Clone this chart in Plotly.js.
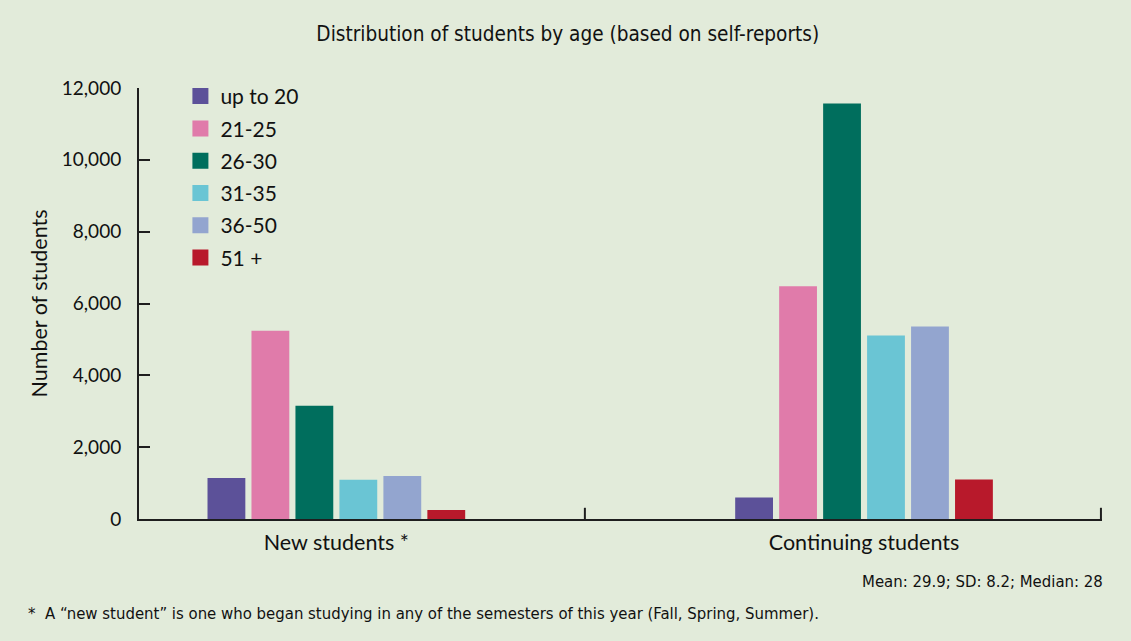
<!DOCTYPE html>
<html>
<head>
<meta charset="utf-8">
<script src="https://cdn.plot.ly/plotly-3.0.1.min.js"></script>
<style>html,body{margin:0;padding:0;background:#E2EBDA;}#chart{width:1131px;height:641px;}</style>
</head>
<body>
<div id="chart"></div>
<script>
// Data
const groups = ["New students *", "Continuing students"];
const ageBands = ["up to 20", "21-25", "26-30", "31-35", "36-50", "51 +"];
const newStudents = [1140, 5240, 3150, 1090, 1200, 250];
const continuingStudents = [600, 6480, 11570, 5110, 5360, 1100];
const bandColors = ["#5C5199", "#E07BAA", "#006E5D", "#6AC5D4", "#93A5CF", "#B8192B"];

const traces = [];
ageBands.forEach((band, i) => {
  traces.push({
    type: "bar",
    x: groups,
    y: [newStudents[i], continuingStudents[i]],
    name: band,
    marker: {color: bandColors[i]},
    showlegend: false,
    hoverinfo: "y+name"
  });
});
// legend proxies (larger square keys)
ageBands.forEach((band, i) => {
  traces.push({
    type: "scatter",
    mode: "markers",
    x: [null], y: [null],
    name: band,
    legendgroup: "g" + i,
    marker: {symbol: "square", size: 17, color: bandColors[i]},
    hoverinfo: "skip"
  });
});

const sans = "Lato, 'Open Sans', sans-serif";
const narrow = "'Liberation Sans Narrow', 'DejaVu Sans Condensed', sans-serif";
const axisColor = "#1e1e1e";

const layout = {
  width: 1131, height: 641,
  paper_bgcolor: "#E2EBDA",
  plot_bgcolor: "#E2EBDA",
  margin: {l: 139, r: 29, t: 88, b: 122},
  title: {text: "Distribution of students by age (based on self-reports)",
          font: {family: narrow, size: 20.6, color: "#111"},
          x: 0.502, xanchor: "center", y: 0.948, yanchor: "middle"},
  barmode: "group",
  bargap: 0.5,
  bargroupgap: 0.14,
  xaxis: {
    type: "category",
    range: [-0.374, 1.451],
    showline: true, linecolor: axisColor, linewidth: 2,
    ticks: "", showgrid: false, zeroline: false,
    tickfont: {family: sans, size: 21.5, color: "#111"},
    ticklabelstandoff: 3,
    fixedrange: true
  },
  yaxis: {
    range: [0, 12000],
    tickvals: [0, 2000, 4000, 6000, 8000, 10000, 12000],
    ticktext: ["0", "2,000", "4,000", "6,000", "8,000", "10,000", "12,000"],
    showline: true, linecolor: axisColor, linewidth: 2,
    ticks: "inside", ticklen: 11, tickwidth: 2, tickcolor: axisColor,
    showgrid: false, zeroline: false,
    tickfont: {family: sans, size: 19, color: "#111"},
    ticklabelstandoff: 12,
    title: {text: "Number of students", font: {family: sans, size: 21.5, color: "#111"}, standoff: 8},
    fixedrange: true
  },
  legend: {
    x: 0.043, y: 1.028, xanchor: "left", yanchor: "top",
    bgcolor: "rgba(0,0,0,0)",
    font: {family: sans, size: 21, color: "#111"},
    traceorder: "grouped",
    tracegroupgap: 2,
    itemsizing: "trace"
  },
  shapes: [
    {type: "line", xref: "x", yref: "paper", x0: 0.471, x1: 0.471, y0: 0, y1: 0.026,
     line: {color: axisColor, width: 2}},
    {type: "line", xref: "x", yref: "paper", x0: 1.449, x1: 1.449, y0: 0, y1: 0.026,
     line: {color: axisColor, width: 2}}
  ],
  annotations: [
    {text: "Mean: 29.9; SD: 8.2; Median: 28", xref: "paper", yref: "paper",
     x: 1.003, y: -0.145, xanchor: "right", yanchor: "middle", showarrow: false,
     font: {family: narrow, size: 16.6, color: "#111"}},
    {text: "*  A \u201cnew student\u201d is one who began studying in any of the semesters of this year (Fall, Spring, Summer).",
     xref: "paper", yref: "paper", x: -0.117, y: -0.22, xanchor: "left", yanchor: "middle", showarrow: false,
     font: {family: narrow, size: 16.6, color: "#111"}}
  ],
  hovermode: false
};

Plotly.newPlot("chart", traces, layout, {displayModeBar: false, staticPlot: true});
</script>
</body>
</html>
